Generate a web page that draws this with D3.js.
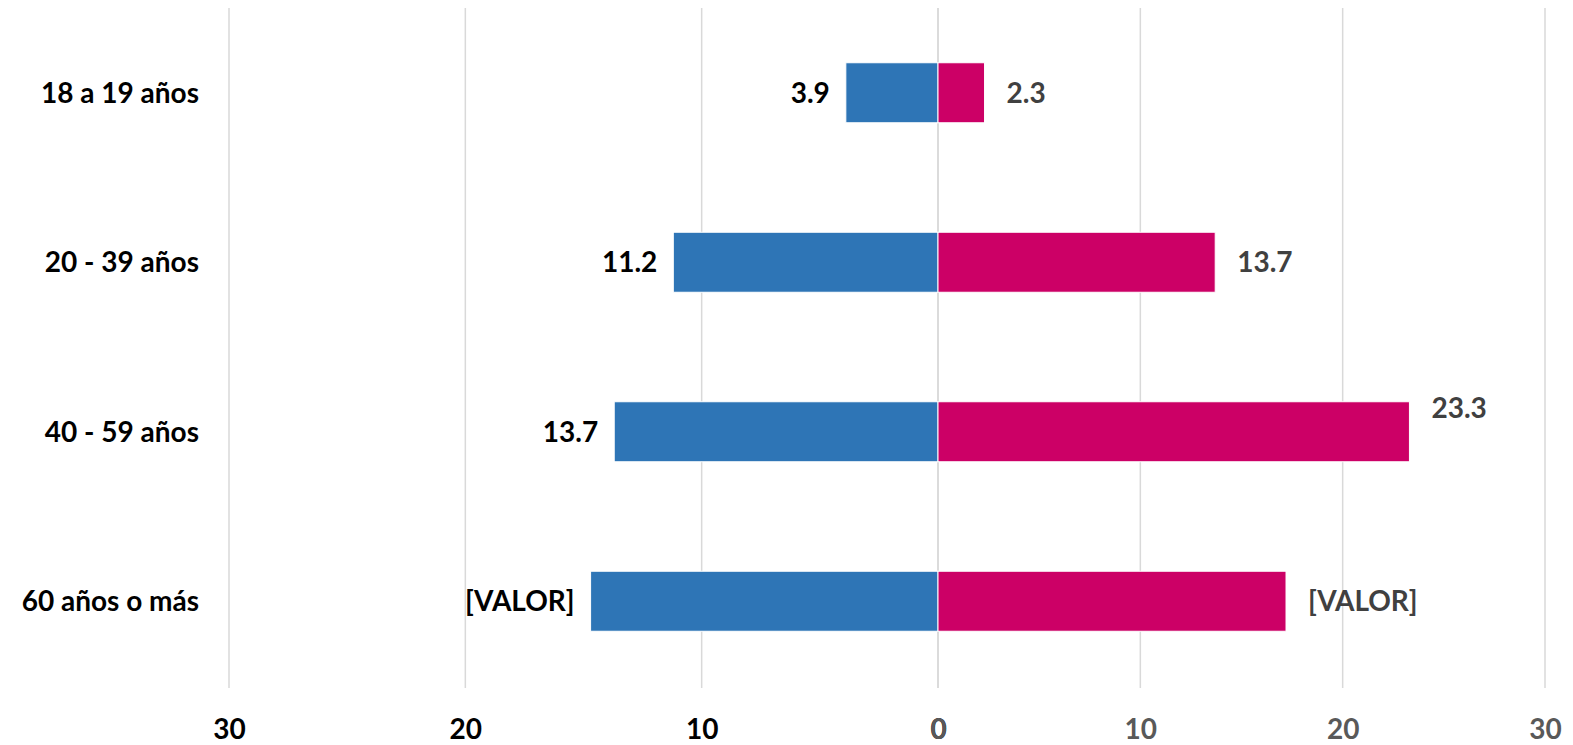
<!DOCTYPE html>
<html>
<head>
<meta charset="utf-8">
<script src="https://cdn.jsdelivr.net/npm/d3@7"></script>
<style>
  body { margin: 0; background: #fff; }
  text { font-family: Lato, "Open Sans", sans-serif; font-weight: bold; }
</style>
</head>
<body>
<div id="chart"></div>
<script>
var categories = ["18 a 19 años", "20 - 39 años", "40 - 59 años", "60 años o más"];
var hombres = [3.9, 11.2, 13.7, 14.7];
var mujeres = [2.3, 13.7, 23.3, 17.2];
var hombresLabels = ["3.9", "11.2", "13.7", "[VALOR]"];
var mujeresLabels = ["2.3", "13.7", "23.3", "[VALOR]"];
var ticks = [0, 10, 20, 30];

var width = 1573, height = 745;
var fontSize = 28;

var svg = d3.select("#chart").append("svg")
  .attr("width", width)
  .attr("height", height);

// two separate scales, the left half is a bit wider than the right
var xl = d3.scaleLinear().domain([30, 0]).range([229, 938]);
var xr = d3.scaleLinear().domain([0, 30]).range([938, 1545]);
var y = d3.scaleBand().domain(categories).range([8, 686]).paddingInner(0.646).paddingOuter(0.323);

var gridTop = 8, gridBottom = 688;

// gridlines
var grid = svg.append("g");
ticks.forEach(function(t) {
  grid.append("line").attr("x1", xl(t)).attr("x2", xl(t))
    .attr("y1", gridTop).attr("y2", gridBottom)
    .attr("stroke", "#d9d9d9").attr("stroke-width", 1.5);
  grid.append("line").attr("x1", xr(t)).attr("x2", xr(t))
    .attr("y1", gridTop).attr("y2", gridBottom)
    .attr("stroke", "#d9d9d9").attr("stroke-width", 1.5);
});

// bars
svg.selectAll("rect.h")
  .data(hombres)
  .enter().append("rect")
  .attr("class", "h")
  .attr("x", function(d) { return xl(d); })
  .attr("width", function(d) { return xl(0) - xl(d); })
  .attr("y", function(d, i) { return y(categories[i]); })
  .attr("height", y.bandwidth())
  .attr("fill", "#2e75b6")
  .attr("stroke", "#ffffff")
  .attr("stroke-width", 1);

svg.selectAll("rect.m")
  .data(mujeres)
  .enter().append("rect")
  .attr("class", "m")
  .attr("x", xr(0))
  .attr("width", function(d) { return xr(d) - xr(0); })
  .attr("y", function(d, i) { return y(categories[i]); })
  .attr("height", y.bandwidth())
  .attr("fill", "#cc0066")
  .attr("stroke", "#ffffff")
  .attr("stroke-width", 1);

// value labels
svg.selectAll("text.hl")
  .data(hombres)
  .enter().append("text")
  .attr("class", "hl")
  .attr("x", function(d) { return xl(d) - 16; })
  .attr("y", function(d, i) { return y(categories[i]) + y.bandwidth() / 2; })
  .attr("dy", "0.35em")
  .attr("text-anchor", "end")
  .attr("font-size", fontSize)
  .attr("fill", "#000")
  .text(function(d, i) { return hombresLabels[i]; });

// excel pushed the 23.3 label up a bit
var mujeresNudge = [0, 0, -24, 0];
svg.selectAll("text.ml")
  .data(mujeres)
  .enter().append("text")
  .attr("class", "ml")
  .attr("x", function(d) { return xr(d) + 22; })
  .attr("y", function(d, i) { return y(categories[i]) + y.bandwidth() / 2 + mujeresNudge[i]; })
  .attr("dy", "0.35em")
  .attr("text-anchor", "start")
  .attr("font-size", fontSize)
  .attr("fill", "#404040")
  .text(function(d, i) { return mujeresLabels[i]; });

// category labels
svg.selectAll("text.cat")
  .data(categories)
  .enter().append("text")
  .attr("class", "cat")
  .attr("x", 199)
  .attr("y", function(d) { return y(d) + y.bandwidth() / 2; })
  .attr("dy", "0.35em")
  .attr("text-anchor", "end")
  .attr("font-size", fontSize)
  .attr("fill", "#000")
  .text(function(d) { return d; });

// axes
var axisL = svg.append("g").attr("transform", "translate(0," + 716 + ")")
  .call(d3.axisBottom(xl).tickValues(ticks).tickSize(0).tickFormat(d3.format("d")));
axisL.select(".domain").remove();
axisL.selectAll("text").attr("font-size", fontSize).attr("fill", "#000").attr("font-family", null);

var axisR = svg.append("g").attr("transform", "translate(0," + 716 + ")")
  .call(d3.axisBottom(xr).tickValues(ticks).tickSize(0).tickFormat(d3.format("d")));
axisR.select(".domain").remove();
axisR.selectAll("text").attr("font-size", fontSize).attr("fill", "#595959").attr("font-family", null);
</script>
</body>
</html>
